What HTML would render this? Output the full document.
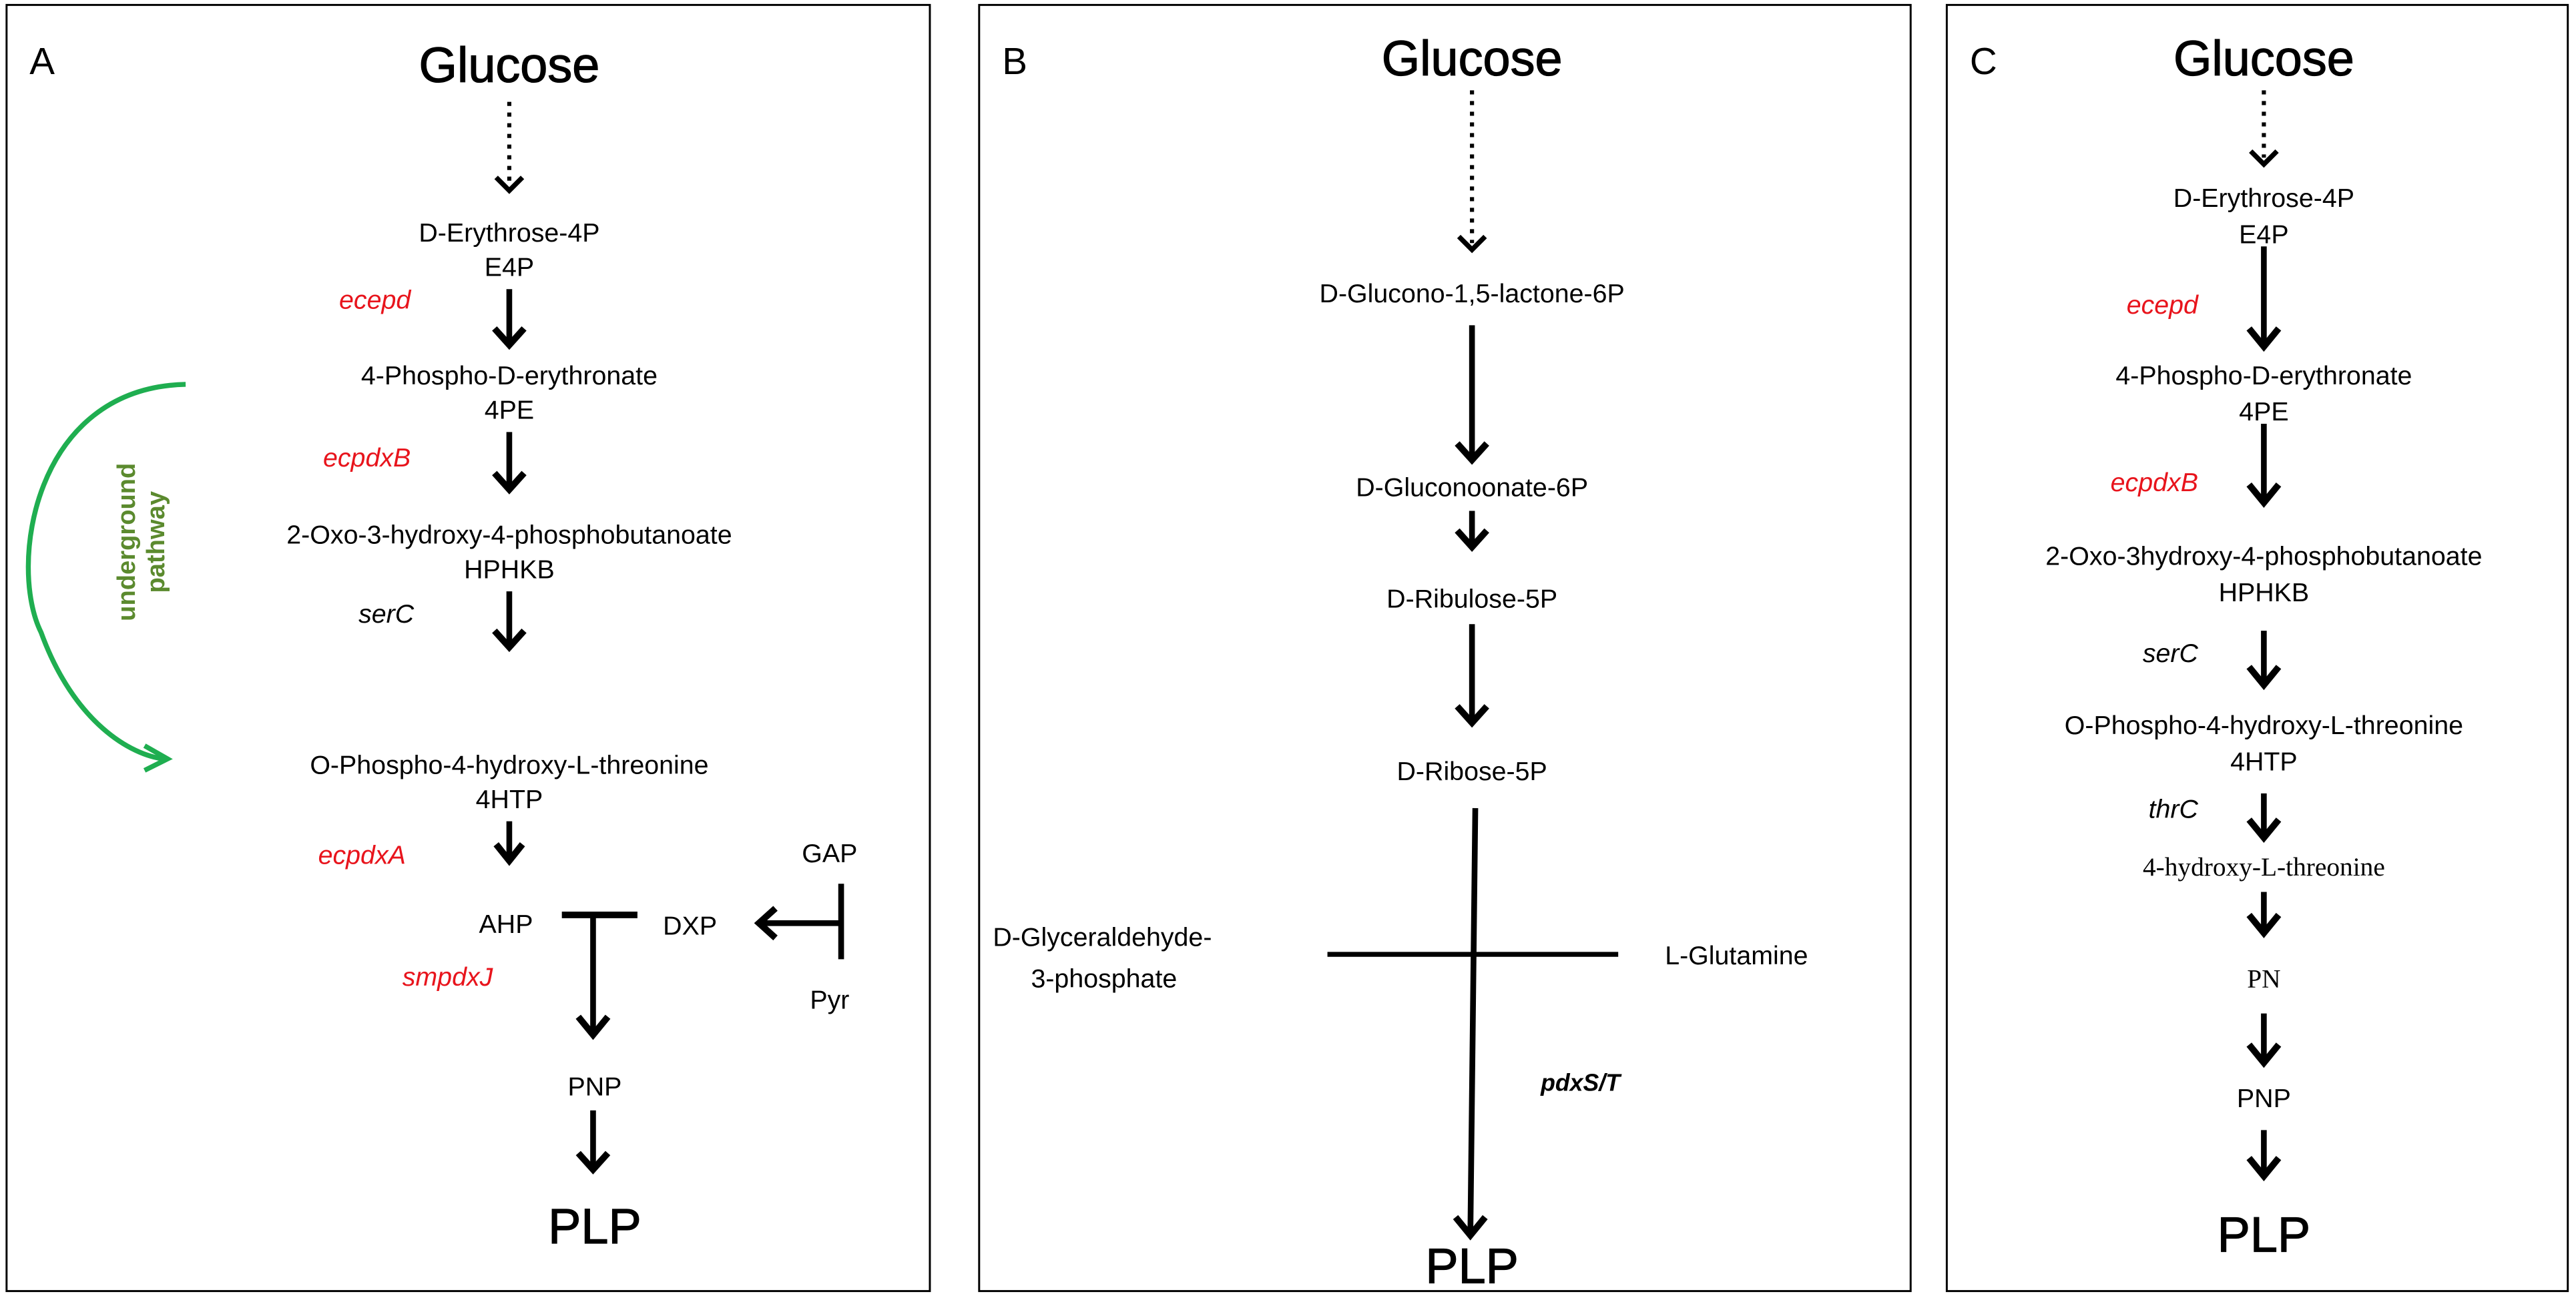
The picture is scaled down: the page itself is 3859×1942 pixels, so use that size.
<!DOCTYPE html>
<html><head><meta charset="utf-8"><style>
html,body{margin:0;padding:0;background:#fff;}
svg{display:block;}
text{font-family:"Liberation Sans",sans-serif;}
.big{font-size:30px;stroke:#000;stroke-width:0.5;}
</style></head><body>
<svg width="3859" height="1942" viewBox="0 0 1568 789" preserveAspectRatio="none" xmlns="http://www.w3.org/2000/svg">
<rect width="1568" height="789" fill="#fff"/>
<rect x="4" y="3" width="562" height="783" fill="none" stroke="#000" stroke-width="1.2"/>
<rect x="596" y="3" width="567" height="783" fill="none" stroke="#000" stroke-width="1.2"/>
<rect x="1185" y="3" width="378" height="783" fill="none" stroke="#000" stroke-width="1.2"/>

<g fill="#000" text-anchor="middle" font-size="16">
<!-- Panel A -->
<text x="18" y="45" font-size="23" text-anchor="start">A</text>
<text x="310" y="50" class="big">Glucose</text>
<line x1="310" y1="62" x2="310" y2="112" stroke="#000" stroke-width="2.5" stroke-dasharray="2.5,4"/>
<polyline points="302,108 310,116 318,108" fill="none" stroke="#000" stroke-width="3"/>
<text x="310" y="147">D-Erythrose-4P</text>
<text x="310" y="168">E4P</text>
<text x="250" y="188" fill="#e8141c" font-style="italic" text-anchor="end">ecepd</text>
<line x1="310" y1="176" x2="310" y2="210" stroke="#000" stroke-width="3.5"/>
<polyline points="301,200 310,210 319,200" fill="none" stroke="#000" stroke-width="4"/>
<text x="310" y="234">4-Phospho-D-erythronate</text>
<text x="310" y="255">4PE</text>
<text x="250" y="284" fill="#e8141c" font-style="italic" text-anchor="end">ecpdxB</text>
<line x1="310" y1="263" x2="310" y2="298" stroke="#000" stroke-width="3.5"/>
<polyline points="301,288 310,298 319,288" fill="none" stroke="#000" stroke-width="4"/>
<text x="310" y="331">2-Oxo-3-hydroxy-4-phosphobutanoate</text>
<text x="310" y="352">HPHKB</text>
<text x="252" y="379" font-style="italic" text-anchor="end">serC</text>
<line x1="310" y1="360" x2="310" y2="394" stroke="#000" stroke-width="3.5"/>
<polyline points="301,384 310,394 319,384" fill="none" stroke="#000" stroke-width="4"/>
<text x="310" y="471">O-Phospho-4-hydroxy-L-threonine</text>
<text x="310" y="492">4HTP</text>
<text x="247" y="526" fill="#e8141c" font-style="italic" text-anchor="end">ecpdxA</text>
<line x1="310" y1="500" x2="310" y2="524" stroke="#000" stroke-width="3.5"/>
<polyline points="302,514 310,524 318,514" fill="none" stroke="#000" stroke-width="4"/>
<text x="308" y="568">AHP</text>
<line x1="342" y1="557" x2="388" y2="557" stroke="#000" stroke-width="4"/>
<line x1="361" y1="557" x2="361" y2="630" stroke="#000" stroke-width="3.5"/>
<polyline points="352,619 361,630 370,619" fill="none" stroke="#000" stroke-width="4"/>
<text x="420" y="569">DXP</text>
<text x="505" y="525">GAP</text>
<text x="505" y="614">Pyr</text>
<line x1="512" y1="538" x2="512" y2="584" stroke="#000" stroke-width="3.5"/>
<line x1="512" y1="562" x2="462" y2="562" stroke="#000" stroke-width="3.5"/>
<polyline points="472,553 462,562 472,571" fill="none" stroke="#000" stroke-width="4"/>
<text x="300" y="600" fill="#e8141c" font-style="italic" text-anchor="end">smpdxJ</text>
<text x="362" y="667">PNP</text>
<line x1="361" y1="676" x2="361" y2="712" stroke="#000" stroke-width="3.5"/>
<polyline points="352,702 361,712 370,702" fill="none" stroke="#000" stroke-width="4"/>
<text x="362" y="757" class="big">PLP</text>
<path d="M113,234 C20,236 5,345 25,385 C45,440 80,460 100,462" fill="none" stroke="#1fae50" stroke-width="3"/>
<polyline points="88,454 102,462 88,469" fill="none" stroke="#1fae50" stroke-width="3"/>
<g transform="translate(85,330) rotate(-90)" fill="#5b8a2e" font-weight="bold" font-size="15.5">
<text x="0" y="-3">underground</text>
<text x="0" y="15">pathway</text>
</g>

<!-- Panel B -->
<text x="610" y="45" font-size="23" text-anchor="start">B</text>
<text x="896" y="46" class="big">Glucose</text>
<line x1="896" y1="55" x2="896" y2="148" stroke="#000" stroke-width="2.5" stroke-dasharray="2.5,4"/>
<polyline points="888,144 896,152 904,144" fill="none" stroke="#000" stroke-width="3"/>
<text x="896" y="184">D-Glucono-1,5-lactone-6P</text>
<line x1="896" y1="198" x2="896" y2="280" stroke="#000" stroke-width="3.5"/>
<polyline points="887,270 896,280 905,270" fill="none" stroke="#000" stroke-width="4"/>
<text x="896" y="302">D-Gluconoonate-6P</text>
<line x1="896" y1="311" x2="896" y2="333" stroke="#000" stroke-width="3.5"/>
<polyline points="887,323 896,333 905,323" fill="none" stroke="#000" stroke-width="4"/>
<text x="896" y="370">D-Ribulose-5P</text>
<line x1="896" y1="380" x2="896" y2="440" stroke="#000" stroke-width="3.5"/>
<polyline points="887,430 896,440 905,430" fill="none" stroke="#000" stroke-width="4"/>
<text x="896" y="475">D-Ribose-5P</text>
<line x1="898" y1="492" x2="895" y2="752" stroke="#000" stroke-width="3.5"/>
<polyline points="886,741 895,752 904,741" fill="none" stroke="#000" stroke-width="4"/>
<line x1="808" y1="581" x2="985" y2="581" stroke="#000" stroke-width="3"/>
<text x="671" y="576">D-Glyceraldehyde-</text>
<text x="672" y="601">3-phosphate</text>
<text x="1057" y="587">L-Glutamine</text>
<text x="962" y="664" font-weight="bold" font-style="italic" font-size="14.5">pdxS/T</text>
<text x="896" y="781" class="big">PLP</text>

<!-- Panel C -->
<text x="1199" y="45" font-size="23" text-anchor="start">C</text>
<text x="1378" y="46" class="big">Glucose</text>
<line x1="1378" y1="55" x2="1378" y2="96" stroke="#000" stroke-width="2.5" stroke-dasharray="2.5,4"/>
<polyline points="1370,92 1378,100 1386,92" fill="none" stroke="#000" stroke-width="3"/>
<text x="1378" y="126">D-Erythrose-4P</text>
<text x="1378" y="148">E4P</text>
<text x="1338" y="191" fill="#e8141c" font-style="italic" text-anchor="end">ecepd</text>
<line x1="1378" y1="150" x2="1378" y2="211" stroke="#000" stroke-width="3.5"/>
<polyline points="1369,200 1378,211 1387,200" fill="none" stroke="#000" stroke-width="4"/>
<text x="1378" y="234">4-Phospho-D-erythronate</text>
<text x="1378" y="256">4PE</text>
<text x="1338" y="299" fill="#e8141c" font-style="italic" text-anchor="end">ecpdxB</text>
<line x1="1378" y1="258" x2="1378" y2="306" stroke="#000" stroke-width="3.5"/>
<polyline points="1369,295 1378,306 1387,295" fill="none" stroke="#000" stroke-width="4"/>
<text x="1378" y="344">2-Oxo-3hydroxy-4-phosphobutanoate</text>
<text x="1378" y="366">HPHKB</text>
<text x="1338" y="403" font-style="italic" text-anchor="end">serC</text>
<line x1="1378" y1="384" x2="1378" y2="417" stroke="#000" stroke-width="3.5"/>
<polyline points="1369,406 1378,417 1387,406" fill="none" stroke="#000" stroke-width="4"/>
<text x="1378" y="447">O-Phospho-4-hydroxy-L-threonine</text>
<text x="1378" y="469">4HTP</text>
<text x="1338" y="498" font-style="italic" text-anchor="end">thrC</text>
<line x1="1378" y1="483" x2="1378" y2="510" stroke="#000" stroke-width="3.5"/>
<polyline points="1369,499 1378,510 1387,499" fill="none" stroke="#000" stroke-width="4"/>
<text x="1378" y="533" style="font-family:'Liberation Serif',serif">4-hydroxy-L-threonine</text>
<line x1="1378" y1="543" x2="1378" y2="568" stroke="#000" stroke-width="3.5"/>
<polyline points="1369,557 1378,568 1387,557" fill="none" stroke="#000" stroke-width="4"/>
<text x="1378" y="601" style="font-family:'Liberation Serif',serif">PN</text>
<line x1="1378" y1="617" x2="1378" y2="647" stroke="#000" stroke-width="3.5"/>
<polyline points="1369,636 1378,647 1387,636" fill="none" stroke="#000" stroke-width="4"/>
<text x="1378" y="674">PNP</text>
<line x1="1378" y1="688" x2="1378" y2="716" stroke="#000" stroke-width="3.5"/>
<polyline points="1369,705 1378,716 1387,705" fill="none" stroke="#000" stroke-width="4"/>
<text x="1378" y="762" class="big">PLP</text>
</g>
</svg>
</body></html>
